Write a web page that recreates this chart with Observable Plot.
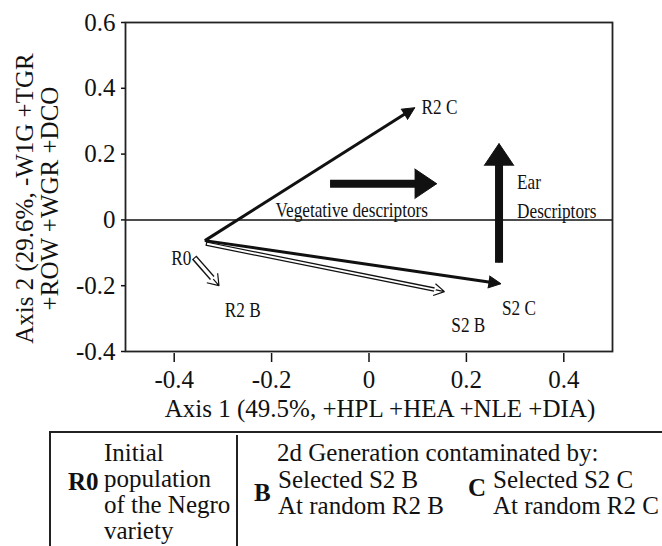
<!DOCTYPE html>
<html><head><meta charset="utf-8">
<script src="https://cdn.jsdelivr.net/npm/d3@7"></script>
<script src="https://cdn.jsdelivr.net/npm/@observablehq/plot@0.6"></script>
<style>
html,body{margin:0;padding:0;background:#fff;overflow:hidden}
#wrap{position:relative;width:662px;height:546px;font-family:"Liberation Serif","Times New Roman",serif;color:#111;overflow:hidden}
#chart{position:absolute;left:0;top:0}
.lg{position:absolute;font-size:25px;line-height:26px;white-space:nowrap}
.b{font-weight:bold}
.ln{position:absolute;background:#222}
</style></head><body>
<div id="wrap">
  <div id="chart"></div>
  <div class="ln" style="left:49px;top:431px;width:613px;height:2px"></div>
  <div class="ln" style="left:49px;top:431px;width:2px;height:115px"></div>
  <div class="ln" style="left:236px;top:435px;width:2px;height:111px"></div>
  <div class="lg b" style="left:68px;top:469px">R0</div>
  <div class="lg" style="left:104px;top:440px">Initial<br>population<br>of the Negro<br>variety</div>
  <div class="lg" style="left:277px;top:440px">2d Generation contaminated by:</div>
  <div class="lg b" style="left:254px;top:480px">B</div>
  <div class="lg" style="left:278px;top:467px">Selected S2 B<br>At random R2 B</div>
  <div class="lg b" style="left:468px;top:475px">C</div>
  <div class="lg" style="left:493px;top:467px">Selected S2 C<br>At random R2 C</div>
</div>
<script>
// ---- data ----
const trajectory = ["R2 C", "S2 C", "S2 B", "R2 B"];
const contaminant = ["C", "C", "B", "B"];
const fromAxis1 = [-0.337, -0.337, -0.335, -0.359];
const fromAxis2 = [-0.063, -0.063, -0.072, -0.114];
const toAxis1 = [0.094, 0.271, 0.155, -0.308];
const toAxis2 = [0.341, -0.194, -0.218, -0.200];

const labelText = ["R0", "R2 C", "S2 C", "S2 B", "R2 B"];
const labelAxis1 = [-0.406, 0.108, 0.273, 0.169, -0.296];
const labelAxis2 = [-0.118, 0.341, -0.270, -0.321, -0.275];

const descriptor = ["Vegetative descriptors", "Ear\nDescriptors"];
const descFrom1 = [-0.080, 0.267];
const descFrom2 = [0.110, -0.130];
const descTo1 = [0.139, 0.267];
const descTo2 = [0.110, 0.232];
const descLabel1 = [-0.192, 0.304];
const descLabel2 = [0.037, 0.077];

const xTicks = [-0.4, -0.2, 0, 0.2, 0.4];
const yTicks = [-0.4, -0.2, 0, 0.2, 0.4, 0.6];
const xTitle = "Axis 1 (49.5%, +HPL +HEA +NLE +DIA)";
const yTitle = "Axis 2 (29.6%, -W1G +TGR\n+ROW +WGR +DCO";

// ---- layout ----
const W = 662, H = 425, mL = 125, mR = 50, mT = 22, mB = 74;
const xDomain = [-0.5, 0.5], yDomain = [-0.4, 0.6];
const ink = "#111";
const fmt = d => d === 0 ? "0" : (d < 0 ? "-" : "") + Math.abs(d).toFixed(1);

const arrows = trajectory.map((name, i) => ({name, group: contaminant[i], x1: fromAxis1[i], y1: fromAxis2[i], x2: toAxis1[i], y2: toAxis2[i]}));
const solid = arrows.filter(d => d.group === "C");
const hollow = arrows.filter(d => d.group === "B");
const labels = labelText.map((t, i) => ({t, x: labelAxis1[i], y: labelAxis2[i]}));
const desc = descriptor.map((t, i) => ({t, x1: descFrom1[i], y1: descFrom2[i], x2: descTo1[i], y2: descTo2[i], lx: descLabel1[i], ly: descLabel2[i]}));

const sx = Plot.scale({x: {domain: xDomain, range: [mL, W - mR]}});
const sy = Plot.scale({y: {domain: yDomain, range: [H - mB, mT]}});
const pxLen = d => Math.hypot(sx.apply(d.x2) - sx.apply(d.x1), sy.apply(d.y2) - sy.apply(d.y1));

const ch = {x1: "x1", y1: "y1", x2: "x2", y2: "y2"};
const hollowMarks = hollow.flatMap(d => {
  const big = d.name === "R2 B";
  const sw = big ? 6 : 4.5, inner = big ? 3.2 : 2, angle = big ? 70 : 60;
  const len = pxLen(d);
  const wing = Math.min(big ? 13 : 12, len / 3);
  const axial = wing * Math.cos(angle / 2 * Math.PI / 180);
  return [
    Plot.arrow([d], {...ch, stroke: ink, fill: "#fff", strokeWidth: 1.2, headLength: wing * 1.5 / 1.2, headAngle: angle, insetStart: len - axial - 2, strokeLinecap: "butt"}),
    Plot.arrow([d], {...ch, stroke: ink, strokeWidth: sw, headLength: 0, insetEnd: axial, strokeLinecap: "butt"}),
    Plot.arrow([d], {...ch, stroke: "#fff", strokeWidth: inner, headLength: 0, insetEnd: axial - 1.5, insetStart: 1.2, strokeLinecap: "butt"})
  ];
});

const plot = Plot.plot({
  width: W, height: H, marginLeft: mL, marginRight: mR, marginTop: mT, marginBottom: mB,
  style: {fontFamily: "Liberation Serif, Times New Roman, serif", fontSize: "25px", color: ink, background: "#fff"},
  x: {domain: xDomain},
  y: {domain: yDomain},
  marks: [
    Plot.ruleY([0], {stroke: ink, strokeWidth: 1.5}),
    Plot.frame({stroke: "#222", strokeWidth: 1.8}),
    Plot.axisX(xTicks, {tickSize: 9, tickPadding: 8, dy: 2, tickFormat: fmt, label: null, strokeWidth: 1.5}),
    Plot.axisY(yTicks, {tickSize: 4, tickPadding: 6, tickFormat: fmt, label: null, strokeWidth: 1.5}),
    Plot.text([xTitle], {frameAnchor: "bottom", dx: 11, dy: 57, lineAnchor: "middle", fill: ink}),
    Plot.text([yTitle], {frameAnchor: "left", rotate: -90, dx: -88.5, dy: 11.5, lineHeight: 1.0, textAnchor: "middle", lineAnchor: "middle", fill: ink}),
    ...hollowMarks,
    Plot.arrow(solid, {...ch, stroke: ink, strokeWidth: 3, headLength: 0, insetEnd: 9, strokeLinecap: "butt"}),
    Plot.arrow(solid, {...ch, stroke: ink, fill: ink, strokeWidth: 1, headLength: 21, headAngle: 52, strokeLinecap: "butt"}),
    Plot.arrow(desc, {...ch, stroke: ink, strokeWidth: 8, headLength: 0, insetEnd: 18, strokeLinecap: "butt"}),
    Plot.arrow(desc, {...ch, stroke: ink, fill: ink, strokeWidth: 1, headLength: 40, headAngle: 68, strokeLinecap: "butt"}),
    Plot.text(labels, {x: "x", y: "y", text: "t", textAnchor: "start", fontSize: 21, fill: ink}),
    Plot.text(desc, {x: "lx", y: "ly", text: "t", textAnchor: "start", fontSize: 21, lineHeight: 1.35, fill: ink})
  ]
});
document.getElementById("chart").appendChild(plot);

// condensed face for the in-plot labels
const condensed = new Set([...labelText, ...descriptor.flatMap(s => s.split("\n"))]);
plot.querySelectorAll("text, tspan").forEach(el => {
  if (el.tagName === "text" && el.querySelector("tspan")) return;
  if (!condensed.has(el.textContent)) return;
  const w = el.getComputedTextLength();
  el.setAttribute("textLength", (w * 0.82).toFixed(1));
  el.setAttribute("lengthAdjust", "spacingAndGlyphs");
});
</script>
</body></html>
